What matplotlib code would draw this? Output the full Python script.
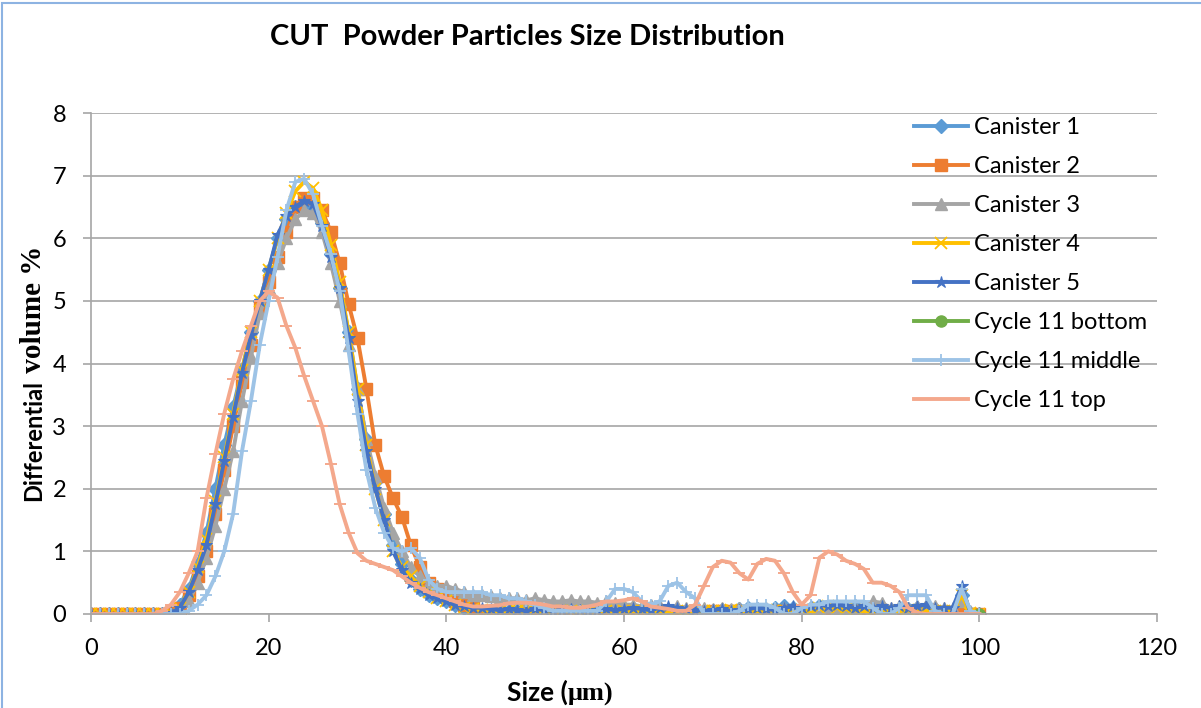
import numpy as np
import matplotlib
matplotlib.use("Agg")
import matplotlib.pyplot as plt
from matplotlib.patches import Rectangle

# particle size grid (um), one reading per micron
sizes = np.arange(0, 101)

canister_1 = [0, 0, 0, 0, 0, 0, 0, 0, 0, 0.02,
              0.15, 0.4, 0.8, 1.3, 2.0, 2.7, 3.3, 3.9, 4.5, 5.0,
              5.5, 6.0, 6.3, 6.5, 6.55, 6.5, 6.25, 5.75, 5.2, 4.5,
              3.6, 2.8, 2.1, 1.6, 1.1, 0.8, 0.55, 0.4, 0.3, 0.25,
              0.2, 0.15, 0.1, 0.1, 0.05, 0.05, 0.04, 0.05, 0.04, 0.05,
              0.04, 0.05, 0.04, 0.05, 0.05, 0.04, 0.05, 0.04, 0.05, 0.05,
              0.06, 0.05, 0.04, 0.05, 0.05, 0.06, 0.05, 0.04, 0.05, 0.04,
              0.05, 0.06, 0.05, 0.08, 0.1, 0.08, 0.06, 0.1, 0.12, 0.1,
              0.08, 0.1, 0.12, 0.1, 0.08, 0.1, 0.12, 0.1, 0.08, 0.05,
              0.05, 0.06, 0.08, 0.1, 0.1, 0.08, 0.05, 0.05, 0.3, 0.02,
              0]
canister_2 = [0, 0, 0, 0, 0, 0, 0, 0, 0, 0.02,
              0.1, 0.3, 0.6, 1.0, 1.6, 2.3, 3.0, 3.7, 4.3, 4.9,
              5.3, 5.7, 6.1, 6.5, 6.65, 6.65, 6.45, 6.1, 5.6, 4.95,
              4.4, 3.6, 2.7, 2.2, 1.85, 1.55, 1.1, 0.75, 0.5, 0.4,
              0.3, 0.2, 0.15, 0.1, 0.05, 0.02, 0, 0, 0, 0,
              0, 0, 0, 0, 0.02, 0, 0, 0, 0, 0.02,
              0, 0, 0, 0.02, 0.03, 0, 0, 0, 0, 0.02,
              0.05, 0.05, 0.05, 0.04, 0.05, 0.03, 0.02, 0.04, 0.05, 0.05,
              0.05, 0.04, 0.05, 0.06, 0.05, 0.04, 0.05, 0.04, 0.02, 0,
              0, 0, 0, 0, 0, 0, 0, 0, 0, 0,
              0]
canister_3 = [0, 0, 0, 0, 0, 0, 0, 0, 0, 0,
              0.05, 0.2, 0.5, 0.9, 1.4, 2.0, 2.6, 3.4, 4.1, 4.8,
              5.2, 5.6, 6.0, 6.3, 6.45, 6.4, 6.1, 5.6, 5.0, 4.3,
              3.6, 2.8, 2.2, 1.7, 1.3, 1.0, 0.75, 0.6, 0.5, 0.45,
              0.45, 0.4, 0.35, 0.3, 0.3, 0.28, 0.26, 0.25, 0.25, 0.22,
              0.25, 0.22, 0.2, 0.2, 0.22, 0.2, 0.2, 0.18, 0.2, 0.18,
              0.15, 0.15, 0.12, 0.15, 0.12, 0.1, 0.12, 0.1, 0.08, 0.1,
              0.08, 0.1, 0.08, 0.1, 0.08, 0.1, 0.1, 0.08, 0.1, 0.08,
              0.1, 0.08, 0.1, 0.12, 0.1, 0.08, 0.1, 0.12, 0.2, 0.18,
              0.1, 0.12, 0.1, 0.12, 0.15, 0.12, 0.1, 0.1, 0.2, 0.05,
              0]
canister_4 = [0, 0, 0, 0, 0, 0, 0, 0, 0, 0.02,
              0.1, 0.35, 0.75, 1.2, 1.8, 2.5, 3.2, 3.9, 4.5, 5.0,
              5.5, 6.0, 6.4, 6.75, 6.9, 6.8, 6.45, 5.9, 5.3, 4.5,
              3.6, 2.7, 2.0, 1.5, 1.0, 0.75, 0.6, 0.45, 0.35, 0.25,
              0.2, 0.15, 0.1, 0.08, 0.06, 0.05, 0.04, 0.05, 0.04, 0.05,
              0.04, 0.03, 0.04, 0.05, 0.04, 0.03, 0.04, 0.05, 0.04, 0.03,
              0.04, 0.05, 0.04, 0.03, 0.04, 0.05, 0.04, 0.03, 0.04, 0.05,
              0.04, 0.05, 0.06, 0.05, 0.04, 0.05, 0.06, 0.05, 0.04, 0.05,
              0.06, 0.05, 0.1, 0.12, 0.1, 0.08, 0.06, 0.05, 0.04, 0.05,
              0.04, 0.05, 0.06, 0.05, 0.04, 0.05, 0.04, 0.05, 0.3, 0.02,
              0]
canister_5 = [0, 0, 0, 0, 0, 0, 0, 0, 0, 0.02,
              0.1, 0.35, 0.7, 1.1, 1.75, 2.45, 3.15, 3.85, 4.45, 5.0,
              5.5, 6.05, 6.35, 6.5, 6.6, 6.55, 6.2, 5.7, 5.2, 4.4,
              3.4, 2.6, 2.0, 1.5, 1.0, 0.7, 0.5, 0.4, 0.3, 0.25,
              0.2, 0.15, 0.12, 0.1, 0.1, 0.08, 0.06, 0.08, 0.06, 0.05,
              0.08, 0.06, 0.05, 0.06, 0.08, 0.06, 0.05, 0.06, 0.08, 0.06,
              0.08, 0.1, 0.08, 0.06, 0.1, 0.12, 0.1, 0.08, 0.06, 0.05,
              0.06, 0.08, 0.05, 0.06, 0.08, 0.1, 0.08, 0.06, 0.1, 0.12,
              0.1, 0.12, 0.15, 0.12, 0.15, 0.12, 0.1, 0.12, 0.1, 0.12,
              0.1, 0.12, 0.1, 0.12, 0.15, 0.1, 0.1, 0.1, 0.45, 0.02,
              0]
# the bottom sample only shows up at the end of the range
bottom_sizes = [100]
cycle11_bottom = [0]
cycle11_middle = [0, 0, 0, 0, 0, 0, 0, 0, 0, 0,
                  0, 0.05, 0.15, 0.3, 0.6, 1.0, 1.6, 2.6, 3.4, 4.3,
                  5.0, 5.7, 6.45, 6.9, 6.95, 6.7, 6.2, 5.75, 5.15, 4.2,
                  3.2, 2.3, 1.7, 1.3, 1.05, 1.0, 1.05, 0.9, 0.55, 0.4,
                  0.35, 0.35, 0.35, 0.35, 0.35, 0.3, 0.3, 0.25, 0.25, 0.2,
                  0.15, 0.1, 0.05, 0.05, 0.05, 0.05, 0.05, 0.05, 0.2, 0.4,
                  0.4, 0.35, 0.2, 0.15, 0.2, 0.45, 0.5, 0.35, 0.25, 0,
                  0, 0, 0, 0.05, 0.15, 0.15, 0.15, 0.1, 0, 0,
                  0.1, 0.15, 0.15, 0.2, 0.2, 0.2, 0.2, 0.2, 0.1, 0,
                  0, 0.1, 0.3, 0.3, 0.3, 0.05, 0, 0, 0.4, 0.05,
                  0]
cycle11_top = [0, 0, 0, 0, 0, 0, 0, 0, 0.05, 0.15,
               0.35, 0.65, 1.0, 1.85, 2.55, 3.2, 3.75, 4.2, 4.6, 5.0,
               5.15, 5.05, 4.6, 4.25, 3.8, 3.4, 3.0, 2.4, 1.75, 1.3,
               0.97, 0.85, 0.8, 0.75, 0.7, 0.6, 0.5, 0.42, 0.35, 0.3,
               0.25, 0.2, 0.15, 0.12, 0.12, 0.13, 0.14, 0.17, 0.18, 0.18,
               0.17, 0.15, 0.12, 0.12, 0.1, 0.1, 0.12, 0.15, 0.2, 0.2,
               0.22, 0.25, 0.2, 0.12, 0.1, 0.08, 0.05, 0.05, 0.15, 0.45,
               0.75, 0.85, 0.82, 0.65, 0.55, 0.8, 0.88, 0.85, 0.65, 0.35,
               0.15, 0.3, 0.9, 1.0, 0.95, 0.85, 0.8, 0.72, 0.5, 0.5,
               0.45, 0.35, 0.1, 0.02, 0, 0, 0, 0, 0, 0,
               0]

text_font = ['Lato', 'DejaVu Sans']
serif_font = ['Liberation Serif', 'DejaVu Serif']
W, H = 1201, 708

fig = plt.figure(figsize=(W / 100, H / 100), dpi=100)
ax = fig.add_axes([91 / W, 1 - 614 / H, (1157 - 91) / W, (614 - 113) / H])

lw = 2.8
ax.plot(sizes, canister_1, color='#5B9BD5', lw=lw, marker='D', ms=7, label='Canister 1')
ax.plot(sizes, canister_2, color='#ED7D31', lw=lw, marker='s', ms=8.5, label='Canister 2')
ax.plot(sizes, canister_3, color='#A5A5A5', lw=lw, marker='^', ms=9, label='Canister 3')
ax.plot(sizes, canister_4, color='#FFC000', lw=lw, marker='x', ms=8, mew=1.3, label='Canister 4')
ax.plot(sizes, canister_5, color='#4472C4', lw=lw, marker='*', ms=9, mew=0.8, label='Canister 5')
ax.plot(bottom_sizes, cycle11_bottom, color='#70AD47', lw=lw, marker='o', ms=8, label='Cycle 11 bottom')
ax.plot(sizes, cycle11_middle, color='#9DC3E6', lw=lw, marker='+', ms=9, mew=1.3, label='Cycle 11 middle')
ax.plot(sizes, cycle11_top, color='#F4A88C', lw=lw, marker='_', ms=8, mew=1.4, label='Cycle 11 top')

ax.set_xlim(0, 120)
ax.set_ylim(0, 8)
ax.set_xticks(range(0, 121, 20))
ax.set_yticks(range(0, 9))
ax.yaxis.grid(True, color='#A6A6A6', lw=1.2)
ax.set_axisbelow(True)
for side in ['top', 'right']:
    ax.spines[side].set_visible(False)
for side in ['left', 'bottom']:
    ax.spines[side].set_color('#A6A6A6')
    ax.spines[side].set_linewidth(1.2)
ax.tick_params(axis='both', colors='#A6A6A6', length=6, width=1.2, labelsize=17,
               labelcolor='black')
ax.tick_params(axis='y', pad=12)
ax.tick_params(axis='x', pad=11)
for lab in ax.get_xticklabels() + ax.get_yticklabels():
    lab.set_family(text_font)

# axis titles mix a sans and a serif face, as in the original
fig.text(568 / W, 1 - 701 / H, 'Size (', family=text_font, fontweight='bold', fontsize=19,
         ha='right', va='baseline')
fig.text(568 / W, 1 - 701 / H, '\u03bcm)', family=serif_font, fontweight='bold', fontsize=19,
         ha='left', va='baseline')
fig.text(41 / W, 1 - 380 / H, 'Differential', family=text_font, fontweight='bold', fontsize=17,
         rotation=90, rotation_mode='anchor', ha='right', va='baseline')
fig.text(41 / W, 1 - 380 / H, ' volume %', family=serif_font, fontweight='bold', fontsize=21,
         rotation=90, rotation_mode='anchor', ha='left', va='baseline')

fig.text(270 / W, 1 - 37 / H, 'CUT  Powder Particles Size Distribution', family=text_font,
         fontweight='bold', fontsize=21, ha='left', va='center')

ax.legend(loc='upper left', bbox_to_anchor=(0.763, 1.01), frameon=False,
          prop={'family': text_font, 'size': 17}, handlelength=2.3,
          handletextpad=0.25, labelspacing=0.76, borderaxespad=0.0)

# chart frame
fig.patches.append(Rectangle((2 / W, -0.01), 1.02, 1 - 3 / H + 0.01, transform=fig.transFigure,
                             fill=False, edgecolor='#8DB3E2', lw=1.5))

fig.savefig('out.png', dpi=100)
